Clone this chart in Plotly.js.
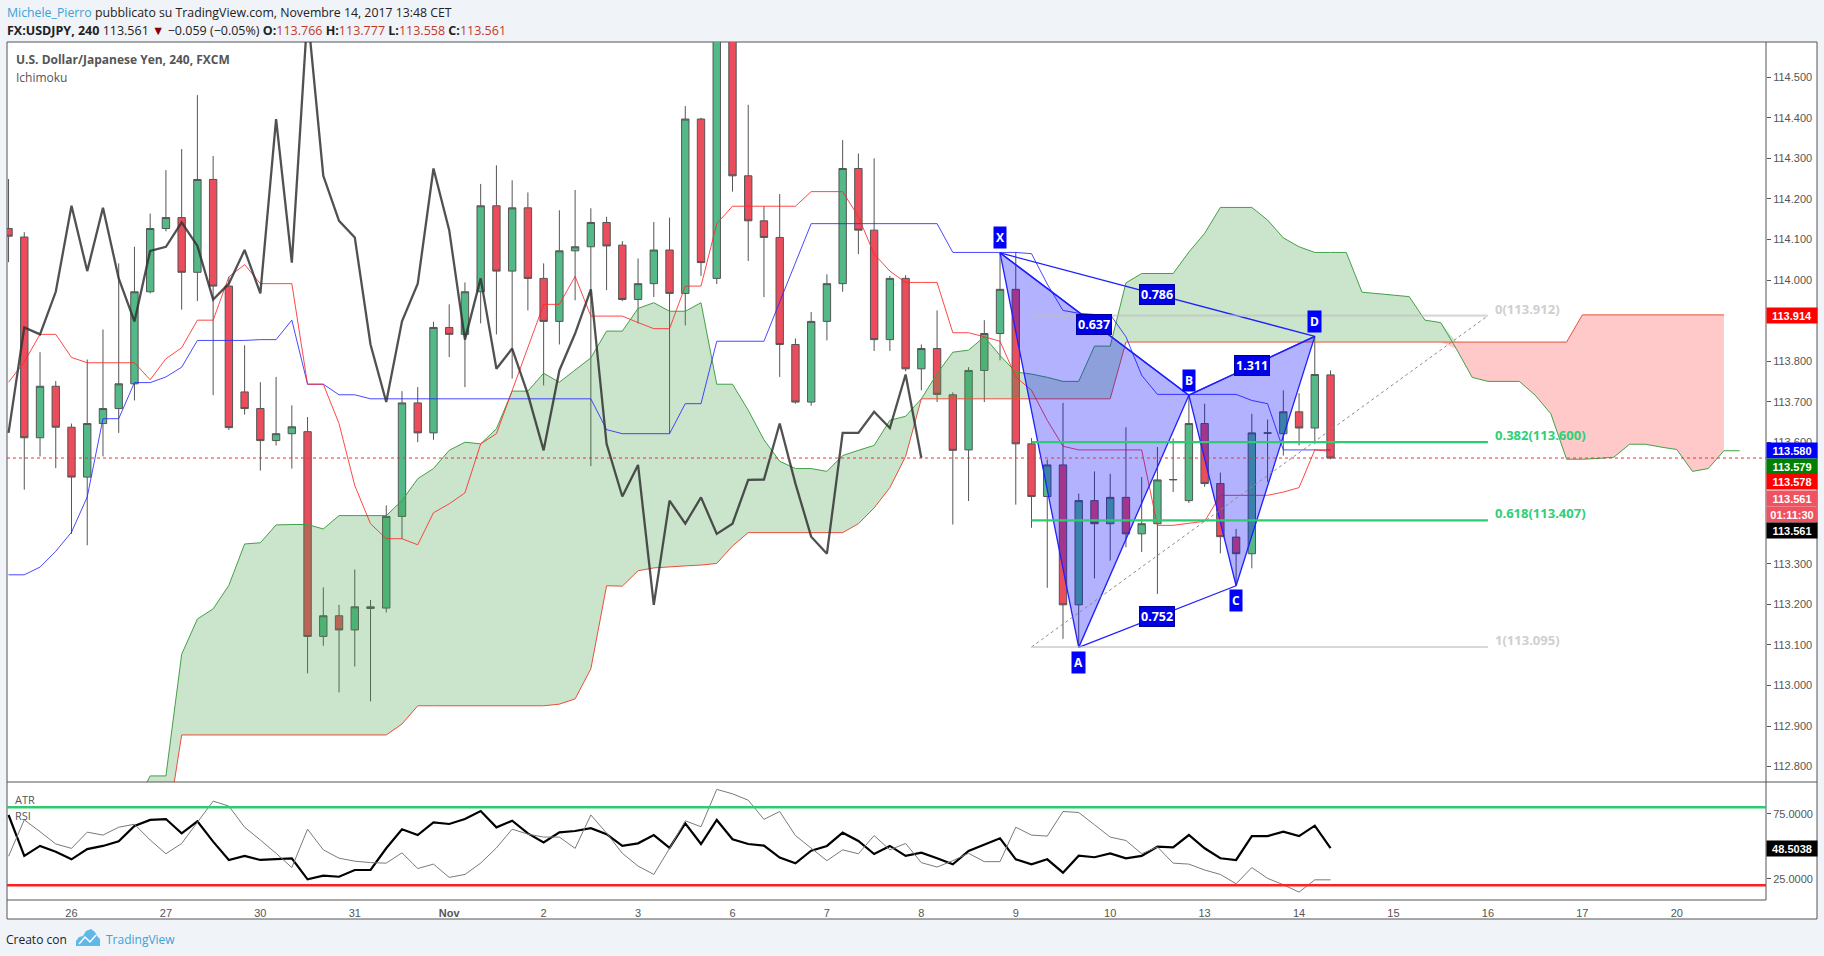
<!DOCTYPE html>
<html><head><meta charset="utf-8">
<script src="https://cdn.plot.ly/plotly-3.0.1.min.js"></script>
<style>html,body{margin:0;padding:0;background:#f0f3f7;overflow:hidden}#chart{width:1824px;height:956px}</style>
</head><body><div id="chart"></div>
<script>
// ---------- DATA ----------
const barIndex = [-4,-3,-2,-1,0,1,2,3,4,5,6,7,8,9,10,11,12,13,14,15,16,17,18,19,20,21,22,23,24,25,26,27,28,29,30,31,32,33,34,35,36,37,38,39,40,41,42,43,44,45,46,47,48,49,50,51,52,53,54,55,56,57,58,59,60,61,62,63,64,65,66,67,68,69,70,71,72,73,74,75,76,77,78,79,80];
const opens = [114.127,114.106,113.611,113.738,113.637,113.514,113.646,113.683,113.744,113.971,114.127,114.154,114.019,114.248,113.985,113.724,113.683,113.604,113.621,113.626,113.121,113.172,113.137,113.190,113.191,113.417,113.697,113.623,113.883,113.866,113.971,114.183,114.022,114.178,114.004,113.898,114.072,114.082,114.142,114.086,113.952,113.991,114.074,113.967,114.397,114.004,114.660,114.257,114.146,114.105,113.841,113.699,113.898,113.991,114.275,114.123,113.853,114.004,113.781,113.831,113.717,113.581,113.777,113.868,113.977,113.596,113.466,113.544,113.199,113.456,113.399,113.464,113.374,113.399,113.507,113.456,113.646,113.498,113.366,113.325,113.622,113.621,113.675,113.635,113.766];
const highs = [114.249,114.118,113.822,113.751,113.646,113.804,113.878,114.041,114.082,114.164,114.271,114.323,114.456,114.306,114.008,113.839,113.748,113.761,113.691,113.662,113.242,113.199,113.286,113.211,113.444,113.726,113.736,113.897,113.940,113.994,114.237,114.283,114.246,114.216,114.041,114.172,114.222,114.177,114.156,114.096,114.053,114.143,114.154,114.429,114.400,114.730,114.700,114.432,114.182,114.212,113.856,113.921,114.014,114.345,114.312,114.300,114.010,114.012,113.841,113.925,113.723,113.785,113.901,114.067,114.069,113.610,113.557,113.697,113.473,113.528,113.522,113.637,113.514,113.588,113.609,113.716,113.695,113.525,113.386,113.670,113.656,113.728,113.721,113.861,113.777];
const lows = [114.044,113.483,113.565,113.536,113.374,113.346,113.565,113.623,113.703,113.967,114.120,113.927,113.948,113.716,113.630,113.668,113.530,113.592,113.535,113.030,113.098,112.983,113.047,112.961,113.180,113.362,113.600,113.606,113.810,113.736,113.893,113.866,113.757,113.925,113.740,113.841,113.950,113.541,113.975,113.948,113.893,113.958,113.621,113.888,114.010,113.990,114.218,114.047,113.958,113.761,113.695,113.690,113.851,113.971,114.064,113.825,113.825,113.775,113.728,113.699,113.397,113.455,113.699,113.802,113.446,113.389,113.241,113.115,113.094,113.264,113.308,113.341,113.329,113.226,113.477,113.450,113.490,113.326,113.246,113.289,113.502,113.567,113.592,113.596,113.558];
const closes = [114.108,113.611,113.738,113.637,113.514,113.646,113.683,113.744,113.971,114.127,114.154,114.019,114.248,113.985,113.636,113.683,113.604,113.621,113.638,113.121,113.172,113.137,113.194,113.194,113.417,113.697,113.623,113.883,113.866,113.971,114.183,114.022,114.178,114.004,113.898,114.072,114.082,114.142,114.084,113.952,113.991,114.074,113.967,114.397,114.043,114.660,114.257,114.146,114.105,113.841,113.699,113.898,113.991,114.275,114.123,113.853,114.004,113.781,113.831,113.718,113.580,113.777,113.868,113.977,113.596,113.466,113.544,113.199,113.456,113.399,113.464,113.374,113.399,113.507,113.508,113.646,113.498,113.367,113.325,113.623,113.623,113.675,113.635,113.767,113.561];

// Ichimoku lines (one value per bar)
const blueLine = [113.273,113.273,113.292,113.331,113.378,113.465,113.658,113.658,113.747,113.747,113.761,113.785,113.851,113.851,113.851,113.851,113.853,113.853,113.901,113.743,113.743,113.717,113.717,113.707,113.707,113.707,113.707,113.707,113.707,113.707,113.707,113.707,113.707,113.707,113.707,113.707,113.707,113.707,113.631,113.621,113.621,113.621,113.621,113.695,113.695,113.849,113.849,113.849,113.849,113.946,114.043,114.139,114.139,114.139,114.139,114.139,114.139,114.139,114.139,114.139,114.068,114.068,114.068,114.068,114.068,114.065,113.990,113.925,113.918,113.915,113.915,113.860,113.765,113.718,113.718,113.718,113.718,113.718,113.718,113.703,113.695,113.581,113.581,113.581,113.581];
const redLine = [113.748,113.798,113.866,113.866,113.809,113.796,113.796,113.796,113.796,113.754,113.806,113.833,113.901,113.901,114.008,114.038,113.991,113.991,113.991,113.743,113.743,113.646,113.493,113.399,113.362,113.362,113.347,113.426,113.448,113.475,113.596,113.621,113.726,113.830,113.940,113.940,114.009,113.911,113.911,113.911,113.895,113.880,113.880,113.985,113.985,114.139,114.182,114.182,114.182,114.182,114.182,114.218,114.218,114.218,114.156,114.064,114.022,113.994,113.994,113.994,113.870,113.870,113.860,113.849,113.761,113.728,113.654,113.590,113.581,113.581,113.581,113.581,113.581,113.395,113.395,113.400,113.405,113.469,113.469,113.469,113.469,113.477,113.488,113.581,113.578];

// Cloud (leading spans, plotted 26 bars ahead)
const cloudIndex = [4,5,6,7,8,9,10,11,12,13,14,15,16,17,18,19,20,21,22,23,24,25,26,27,28,29,30,31,32,33,34,35,36,37,38,39,40,41,42,43,44,45,46,47,48,49,50,51,52,53,54,55,56,57,58,59,60,61,62,63,64,65,66,67,68,69,70,71,72,73,74,75,76,77,78,79,80,81,82,83,84,85,86,87,88,89,90,91,92,93,94,95,96,97,98,99,100,101,102,103,104,105,106];
const leadA = [112.700,112.777,112.777,113.077,113.164,113.189,113.247,113.349,113.352,113.396,113.397,113.397,113.386,113.419,113.419,113.419,113.419,113.456,113.510,113.535,113.580,113.600,113.596,113.633,113.726,113.726,113.770,113.748,113.779,113.808,113.874,113.874,113.930,113.944,113.923,113.923,113.944,113.743,113.743,113.679,113.606,113.553,113.535,113.535,113.528,113.567,113.580,113.592,113.654,113.664,113.707,113.769,113.822,113.827,113.860,113.814,113.773,113.768,113.760,113.750,113.750,113.837,113.837,113.993,114.016,114.016,114.016,114.069,114.115,114.179,114.179,114.179,114.148,114.104,114.082,114.068,114.068,114.068,113.970,113.966,113.962,113.959,113.901,113.895,113.830,113.760,113.750,113.750,113.750,113.716,113.670,113.558,113.558,113.560,113.563,113.595,113.595,113.588,113.582,113.528,113.535,113.579,113.579];
const leadB = [112.550,112.600,112.630,112.878,112.878,112.878,112.878,112.878,112.878,112.878,112.878,112.878,112.878,112.878,112.878,112.878,112.878,112.905,112.950,112.950,112.950,112.950,112.950,112.950,112.950,112.950,112.950,112.954,112.967,113.041,113.246,113.245,113.283,113.290,113.293,113.295,113.297,113.301,113.344,113.377,113.377,113.377,113.377,113.377,113.377,113.377,113.399,113.438,113.488,113.565,113.707,113.707,113.707,113.707,113.707,113.707,113.707,113.707,113.707,113.707,113.707,113.707,113.707,113.847,113.847,113.847,113.847,113.847,113.847,113.847,113.847,113.847,113.847,113.847,113.847,113.847,113.847,113.847,113.847,113.847,113.847,113.847,113.847,113.847,113.847,113.847,113.847,113.847,113.847,113.847,113.847,113.847,113.914,113.914,113.914,113.914,113.914,113.914,113.914,113.914,113.914,113.914];
const laggingShift = 26;

// Lower pane
const rsi = [74.0,42.5,50.2,45.8,39.9,47.8,50.2,53.8,65.5,70.2,70.9,59.9,69.1,53.5,39.4,42.5,39.4,39.9,40.7,24.5,27.3,26.5,31.7,31.7,48.4,63.0,58.6,68.4,67.1,70.9,77.1,64.5,69.6,59.9,52.9,60.7,61.7,63.8,59.2,50.2,52.2,58.6,48.8,67.6,51.7,70.2,55.3,51.7,50.4,41.2,36.8,46.5,50.2,60.4,54.0,44.0,50.2,42.5,45.0,40.7,36.1,46.3,50.9,56.1,39.9,36.1,39.9,29.6,42.7,41.5,44.5,40.7,42.5,49.6,49.1,58.6,48.4,40.7,39.4,57.8,57.8,61.2,57.8,65.8,48.5038];
const atr = [0.169,0.243,0.219,0.194,0.185,0.218,0.212,0.228,0.234,0.202,0.174,0.195,0.238,0.281,0.271,0.228,0.202,0.175,0.146,0.224,0.182,0.165,0.159,0.156,0.155,0.176,0.144,0.153,0.126,0.132,0.155,0.186,0.224,0.214,0.208,0.208,0.185,0.253,0.216,0.175,0.149,0.132,0.185,0.241,0.229,0.305,0.296,0.283,0.244,0.260,0.211,0.185,0.160,0.182,0.174,0.211,0.182,0.195,0.156,0.147,0.160,0.175,0.158,0.158,0.228,0.212,0.210,0.260,0.258,0.233,0.208,0.201,0.174,0.188,0.155,0.153,0.141,0.132,0.113,0.146,0.124,0.111,0.096,0.121,0.121];
const rsiLevels = [80, 20];

// Axis ticks
const dayTickIndex = [0,6,12,18,24,30,36,42,48,54,60,66,72,78,84,90,96,102];
const dayTickLabels = ['26','27','30','31','<b>Nov</b>','2','3','6','7','8','9','10','13','14','15','16','17','20'];
const priceTicks = [112.8,112.9,113.0,113.1,113.2,113.3,113.6,113.7,113.8,114.0,114.1,114.2,114.3,114.4,114.5];
const rsiTicks = [25, 75];

// Harmonic pattern
const patternNames = ['X','A','B','C','D'];
const patternIndex = [59,64,71,74,79];
const patternPrice = [114.067,113.094,113.716,113.246,113.861];
const ratioLabels = ['0.637','0.786','0.752','1.311'];
const ratioLegs = [[0,2],[0,4],[1,3],[2,4]];

// Fibonacci retracement
const fibRatios = ['0','0.382','0.618','1'];
const fibPrices = [113.912,113.600,113.407,113.095];
const fibStart = 61, fibEnd = 90;

// Right-axis value labels
const axisLabelTexts = ['113.914','113.580','113.579','113.578','113.561','01:11:30','113.561'];
const axisLabelColors = ['#ff0000','#0000ff','#008000','#ff0000','#ef5361','#ef5361','#000000'];
const lastRsiText = '48.5038';

// ---------- GEOMETRY ----------
const L = 7, R = 1766, T = 42, B = 900, SPLIT = 782;
const PW = R - L, PH = B - T;
const px = x => (x - L) / PW;
const py = y => (B - y) / PH;
const splitFrac = py(SPLIT);

const GREEN = '#53b987', RED = '#eb4d5c', WICK = '#555555';
const FONT = 'Open Sans, sans-serif';
const AXF = 'Liberation Sans, Arial, sans-serif';

const traces = [];
traces.push({type:'candlestick', x:barIndex, open:opens, high:highs, low:lows, close:closes,
  increasing:{line:{color:WICK,width:1}, fillcolor:GREEN},
  decreasing:{line:{color:WICK,width:1}, fillcolor:RED},
  whiskerwidth:0, hoverinfo:'skip', showlegend:false, xaxis:'x', yaxis:'y'});

// cloud fills
const cloudTop = leadA.map((a,k)=>Math.max(a, leadB[k]));
const cloudBot = leadA.map((a,k)=>Math.min(a, leadB[k]));
traces.push({type:'scatter', mode:'lines', x:cloudIndex, y:leadB, line:{width:0}, hoverinfo:'skip', showlegend:false});
traces.push({type:'scatter', mode:'lines', x:cloudIndex, y:cloudTop, line:{width:0}, fill:'tonexty', fillcolor:'rgba(67,160,71,0.28)', hoverinfo:'skip', showlegend:false});
traces.push({type:'scatter', mode:'lines', x:cloudIndex, y:leadB, line:{width:0}, hoverinfo:'skip', showlegend:false});
traces.push({type:'scatter', mode:'lines', x:cloudIndex, y:cloudBot, line:{width:0}, fill:'tonexty', fillcolor:'rgba(255,0,0,0.21)', hoverinfo:'skip', showlegend:false});
traces.push({type:'scatter', mode:'lines', x:cloudIndex, y:leadA, line:{color:'#43a047',width:1}, hoverinfo:'skip', showlegend:false});
traces.push({type:'scatter', mode:'lines', x:cloudIndex, y:leadB, line:{color:'#e8503c',width:1}, hoverinfo:'skip', showlegend:false});
// conversion / base lines
traces.push({type:'scatter', mode:'lines', x:barIndex, y:blueLine, line:{color:'rgba(40,40,255,0.85)',width:1}, hoverinfo:'skip', showlegend:false});
traces.push({type:'scatter', mode:'lines', x:barIndex, y:redLine, line:{color:'rgba(255,40,40,0.85)',width:1}, hoverinfo:'skip', showlegend:false});
// lagging span
traces.push({type:'scatter', mode:'lines', x:barIndex.slice(laggingShift).map(v=>v-laggingShift), y:closes.slice(laggingShift),
  line:{color:'rgba(50,50,50,0.85)',width:2.3}, hoverinfo:'skip', showlegend:false});

// pattern triangles
const tri = (a,b,c)=>({type:'scatter', mode:'lines', x:[patternIndex[a],patternIndex[b],patternIndex[c],patternIndex[a]],
  y:[patternPrice[a],patternPrice[b],patternPrice[c],patternPrice[a]], fill:'toself', fillcolor:'rgba(0,0,255,0.30)',
  line:{color:'#1f1fff',width:1.3}, hoverinfo:'skip', showlegend:false});
traces.push(tri(0,1,2));
traces.push(tri(2,3,4));
ratioLegs.forEach(([a,b])=>traces.push({type:'scatter', mode:'lines', x:[patternIndex[a],patternIndex[b]], y:[patternPrice[a],patternPrice[b]],
  line:{color:'#1f1fff',width:1.3}, hoverinfo:'skip', showlegend:false}));

// fib
traces.push({type:'scatter', mode:'lines', x:[fibStart,fibEnd], y:[fibPrices[3],fibPrices[0]], line:{color:'#8a8a8a',width:1,dash:'dot'}, hoverinfo:'skip', showlegend:false});
const fibColors = ['rgba(190,190,190,0.6)','#2ecc71','#2ecc71','rgba(190,190,190,0.6)'];
const fibTextColors = ['#cfcfcf','#2fcf77','#2fcf77','#cfcfcf'];
fibPrices.forEach((p,k)=>traces.push({type:'scatter', mode:'lines', x:[fibStart,fibEnd], y:[p,p], line:{color:fibColors[k],width:2.2}, hoverinfo:'skip', showlegend:false}));

// lower pane
traces.push({type:'scatter', mode:'lines', x:barIndex, y:atr, xaxis:'x', yaxis:'y3', line:{color:'#7a7a7a',width:1}, hoverinfo:'skip', showlegend:false});
traces.push({type:'scatter', mode:'lines', x:barIndex, y:rsi, xaxis:'x', yaxis:'y2', line:{color:'#000000',width:2.2}, hoverinfo:'skip', showlegend:false});

// ---------- SHAPES ----------
const shapes = [];
shapes.push({type:'rect', xref:'paper', yref:'paper', x0:px(7), x1:px(1817), y0:py(919), y1:py(42), fillcolor:'#ffffff', line:{color:'#555',width:1}, layer:'below'});
shapes.push({type:'line', xref:'paper', yref:'paper', x0:px(7), x1:px(1817), y0:splitFrac, y1:splitFrac, line:{color:'#555',width:1}});
shapes.push({type:'line', xref:'paper', yref:'paper', x0:px(7), x1:px(1766), y0:0, y1:0, line:{color:'#555',width:1}});
shapes.push({type:'line', xref:'paper', yref:'paper', x0:1, x1:1, y0:0, y1:1, line:{color:'#555',width:1}});
shapes.push({type:'line', xref:'paper', yref:'y', x0:0, x1:1, y0:closes[closes.length-1], y1:closes[closes.length-1], line:{color:'#e53935',width:1,dash:'dot'}});
shapes.push({type:'line', xref:'paper', yref:'y2', x0:0, x1:1, y0:rsiLevels[0], y1:rsiLevels[0], line:{color:'#2ecc71',width:2.5}});
shapes.push({type:'line', xref:'paper', yref:'y2', x0:0, x1:1, y0:rsiLevels[1], y1:rsiLevels[1], line:{color:'#ff2020',width:2.5}});
// TradingView logo (small cloud)
const pathPx = pts => 'M ' + pts.map(p=>px(p[0])+','+py(p[1])).join(' L ') + ' Z';
shapes.push({type:'path', xref:'paper', yref:'paper', path:pathPx([[76,946],[76,941],[79,937],[83,936],[86,931],[91,929],[95,932],[97,936],[100,939],[100,946]]), fillcolor:'#5fb8e6', line:{width:0}});
shapes.push({type:'path', xref:'paper', yref:'paper', path:'M '+[[79,944],[85,937],[90,942],[96,935]].map(p=>px(p[0])+','+py(p[1])).join(' L '), line:{color:'#ffffff',width:1.5}});

// ---------- ANNOTATIONS ----------
const ann = [];
const txt = (x,y,text,opt={}) => ann.push(Object.assign({xref:'paper', yref:'paper', x:px(x), y:py(y), text, showarrow:false, xanchor:'left', yanchor:'middle',
  font:{family:FONT, size:12, color:'#333'}}, opt));
txt(5, 13, '<span style="color:#3ca2d8">Michele_Pierro</span> pubblicato su TradingView.com, Novembre 14, 2017 13:48 CET', {font:{family:FONT,size:12.3,color:'#222'}});
txt(5, 30, '<b>FX:USDJPY, 240</b> 113.561 <span style="color:#8b0000">▼</span> −0.059 (−0.05%) <b>O:</b><span style="color:#c0392b">113.766</span> <b>H:</b><span style="color:#c0392b">113.777</span> <b>L:</b><span style="color:#c0392b">113.558</span> <b>C:</b><span style="color:#c0392b">113.561</span>', {font:{family:FONT,size:12.5,color:'#222'}});
txt(14, 60, '<b>U.S. Dollar/Japanese Yen, 240, FXCM</b>', {font:{family:FONT,size:12,color:'#555'}});
txt(14, 77, 'Ichimoku', {font:{family:FONT,size:12,color:'#555'}});
txt(13, 799, 'ATR', {font:{family:FONT,size:11,color:'#555'}});
txt(13, 815, 'RSI', {font:{family:FONT,size:11,color:'#555'}});
txt(4, 939, 'Creato con', {font:{family:FONT,size:12,color:'#222'}});
txt(104, 939, 'TradingView', {font:{family:FONT,size:12,color:'#3ca2d8'}});

// pattern point labels
patternNames.forEach((n,k)=>{
  const up = (k % 2 === 0);
  ann.push({xref:'x', yref:'y', x:patternIndex[k], y:patternPrice[k], text:'<b>'+n+'</b>', showarrow:false,
    yshift: up ? 15 : -15, bgcolor:'#0000ff', borderpad:2, font:{family:FONT,size:12,color:'#fff'}});
});
ratioLegs.forEach(([a,b],k)=>{
  ann.push({xref:'x', yref:'y', x:(patternIndex[a]+patternIndex[b])/2, y:(patternPrice[a]+patternPrice[b])/2, text:'<b>'+ratioLabels[k]+'</b>',
    showarrow:false, bgcolor:'#0000e6', bordercolor:'#00009a', borderwidth:1, borderpad:1, font:{family:FONT,size:12.5,color:'#fff'}});
});
fibPrices.forEach((p,k)=>{
  ann.push({xref:'x', yref:'y', x:fibEnd, y:p, text:'<b>'+fibRatios[k]+'('+p.toFixed(3)+')</b>', showarrow:false, xanchor:'left', yanchor:'middle',
    xshift:5, yshift:7, font:{family:FONT,size:13,color:fibTextColors[k]}});
});
// right axis labels
const labelY = [315.5, 450, 466, 482, 498, 514, 530];
axisLabelTexts.forEach((t,k)=>{
  ann.push({xref:'paper', yref:'paper', x:px(1766), y:py(labelY[k]), text:'<b>'+t+'</b>', showarrow:false, xanchor:'left', yanchor:'middle',
    bgcolor:axisLabelColors[k], width:48, height:13, borderpad:1, align:'center', font:{family:AXF,size:11,color:'#fff'}});
});
ann.push({xref:'paper', yref:'y2', x:px(1766), y:rsi[rsi.length-1], text:'<b>'+lastRsiText+'</b>', showarrow:false, xanchor:'left', yanchor:'middle',
  bgcolor:'#000', width:48, height:13, borderpad:1, align:'center', font:{family:AXF,size:11,color:'#fff'}});

const layout = {
  width:1824, height:956,
  margin:{l:L, r:1824-R, t:T, b:956-B, pad:0},
  paper_bgcolor:'#f0f3f7', plot_bgcolor:'#ffffff',
  showlegend:false, boxgap:0.33,
  xaxis:{range:[-4.098, 107.67], anchor:'y2', tickvals:dayTickIndex, ticktext:dayTickLabels, showgrid:false, zeroline:false, showline:false,
    ticks:'outside', ticklen:3, tickcolor:'rgba(0,0,0,0)', tickfont:{family:AXF,size:11,color:'#555'}, rangeslider:{visible:false}, fixedrange:true},
  yaxis:{domain:[splitFrac,1], range:[112.762,114.587], side:'right', tickvals:priceTicks, tickformat:'.3f', ticks:'outside', ticklen:4,
    tickcolor:'#555', showgrid:false, zeroline:false, showline:false, tickfont:{family:AXF,size:11,color:'#555'}, fixedrange:true},
  yaxis2:{domain:[0,splitFrac], range:[8.6,99.4], side:'right', tickvals:rsiTicks, tickformat:'.4f', ticks:'outside', ticklen:4,
    tickcolor:'#555', showgrid:false, zeroline:false, showline:false, tickfont:{family:AXF,size:11,color:'#555'}, fixedrange:true},
  yaxis3:{domain:[0,splitFrac], overlaying:'y2', range:[0.08,0.32], visible:false, fixedrange:true},
  shapes, annotations:ann
};
Plotly.newPlot('chart', traces, layout, {displayModeBar:false, staticPlot:true});
</script></body></html>
